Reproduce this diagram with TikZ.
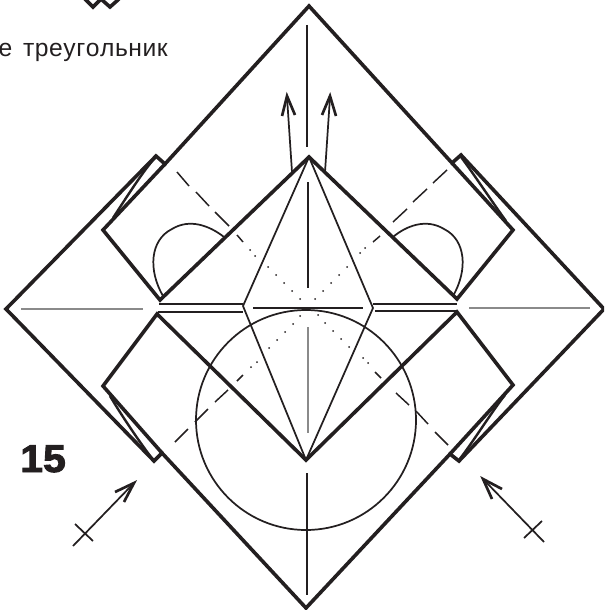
\documentclass[tikz,border=0pt]{standalone}
\usepackage{fontspec}
\usepackage{xcolor}
\usetikzlibrary{arrows.meta}
\setmainfont{Liberation Sans}
\newfontfamily\stepnumfont[FakeBold=2.4,FakeStretch=1.06]{Liberation Sans Bold}
\definecolor{inkdark}{HTML}{231F20}
\definecolor{creasegray}{HTML}{8A8A8A}
\begin{document}
\begin{tikzpicture}[x=0.75pt,y=-0.75pt,
  edgeline/.style={draw=inkdark,line width=2.7pt,line join=miter},
  foldline/.style={draw=inkdark,line width=1.3pt},
  creaseline/.style={draw=inkdark,line width=0.8pt},
  grayline/.style={draw=creasegray,line width=1pt},
  dashline/.style={draw=inkdark,line width=1.1pt},
  arrowline/.style={draw=inkdark,line width=1.3pt},
  headline/.style={draw=inkdark,line width=2pt,line join=miter}]
\useasboundingbox (0,0) rectangle (604,610);
\clip (0,0) rectangle (604,610);
% outer square
\draw[edgeline] (309,6) -- (165,164) -- (156,156) -- (6,309) -- (154,461) -- (162,453) -- (306,608)
  -- (450,454) -- (459,461) -- (604,309) -- (461,155) -- (452,163) -- cycle;
% corner flaps
\draw[edgeline] (165,164) -- (103,230) -- (160,300) -- (309,157) -- (457,299) -- (513,230) -- (452,163);
\draw[edgeline] (162,453) -- (103,386) -- (157,314) -- (306,460) -- (457,312) -- (513,385) -- (450,454);
% slivers
\draw[foldline,line width=1.8pt] (156,157) .. controls (147,166) and (133,187) .. (113,218);
\draw[foldline,line width=1.8pt] (461,157) .. controls (473,173) and (493,203) .. (506,221);
\draw[foldline,line width=1.8pt] (154,461) .. controls (140,443) and (120,413) .. (110,396);
\draw[foldline,line width=1.8pt] (459,460) .. controls (473,442) and (493,410) .. (505,395);
% centre
\draw[foldline] (309,157) -- (243,306) -- (306,460) -- (373,308) -- cycle;
\draw[foldline,line width=1.5pt] (159,304) -- (243,304) (158,312) -- (243,312);
\draw[foldline,line width=1.5pt] (373,304) -- (457,304) (375,311) -- (457,311);
% creases
\draw[creaseline] (307,25) -- (307,147) (308,182) -- (308,288) (307,473) -- (307,595) (253,308) -- (363,308);
\draw[grayline] (308,327) -- (308,433) (21,309) -- (143,309) (469,308) -- (590,308);
% circle and arcs
\draw[foldline] (306,420) circle (110);
\draw[foldline] (163,296) .. controls (148,270) and (150,240) .. (172,229) .. controls (190,218) and (210,226) .. (224,237);
\draw[foldline] (453,296) .. controls (468,270) and (466,240) .. (444,229) .. controls (426,218) and (406,226) .. (393,237);
% dashes
\foreach \xa/\ya/\xb/\yb in {177/172/189/186,196/192/209/206,215/212/229/226,237/235/243/242,
  447/170/433/183,427/189/413/202,407/209/393/222,380/236/373/242,
  243/375/237/381,228/390/215/402,208/409/195/422,188/429/175/442,
  375/372/381/378,396/393/409/405,416/411/428/424,435/432/448/445}
  \draw[dashline] (\xa,\ya) -- (\xb,\yb);
\foreach \xa/\ya in {250/250,255/256,268/267,276/275,284/283,292/291,300/299,308/308,
  365/248,360/253,347/267,339/275,331/283,323/291,315/299,
  293/324,285/332,277/340,269/348,257/362,251/367,300/316,
  318/315,325/323,333/331,341/339,349/347,363/358,368/363}
  \fill[inkdark] (\xa,\ya) circle (1);
% arrows
\draw[arrowline] (292,172) -- (287,97);
\draw[headline] (282,116) -- (287,96) -- (295,115);
\draw[arrowline] (325,172) -- (330,97);
\draw[headline] (322,115) -- (330,96) -- (336,116);
\draw[arrowline] (73,546) -- (133,484) (75,524) -- (93,541);
\draw[headline] (115,492) -- (134,483) -- (124,502);
\draw[arrowline] (544,542) -- (484,480) (524,538) -- (542,521);
\draw[headline] (502,489) -- (483,479) -- (492,499);
% top mark
\draw[edgeline] (85,-1) -- (93,7) -- (101,-1) -- (110,7) -- (119,-1);
% texts
\node[anchor=base east,inner sep=0pt,text=inkdark,font=\fontsize{18.5pt}{22pt}\selectfont] (caption)
  at (168,57) {е\kern3pt\ т\kern.4pt р\kern.4pt е\kern.4pt у\kern.4pt г\kern.4pt о\kern.4pt л\kern.4pt ь\kern.4pt н\kern.4pt и\kern.4pt к};
\node[anchor=base west,inner sep=0pt,text=inkdark,font=\stepnumfont\fontsize{29pt}{32pt}\selectfont] (stepnum)
  at (20,472) {15};
\end{tikzpicture}
\end{document}
